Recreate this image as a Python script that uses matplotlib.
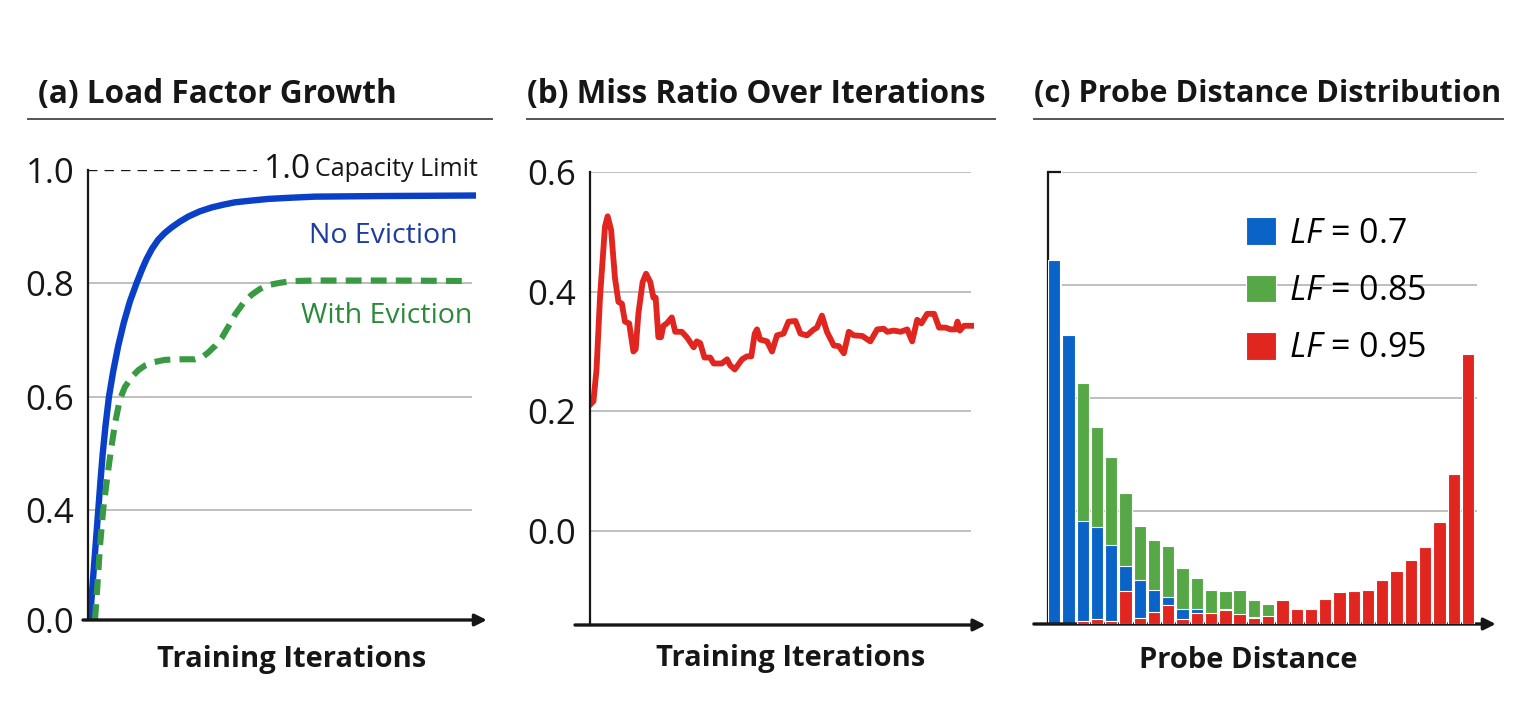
import numpy as np
import matplotlib
matplotlib.use("Agg")
import matplotlib.pyplot as plt
from matplotlib.lines import Line2D

plt.rcParams['font.family'] = ['Open Sans', 'DejaVu Sans']
plt.rcParams['mathtext.fontset'] = 'custom'
plt.rcParams['mathtext.it'] = 'Open Sans:italic'
plt.rcParams['mathtext.rm'] = 'Open Sans'

# ---- data ----
# (a) load factor vs iterations, x in percent of the run
no_evict_x = [0.5, 1.35, 2.65, 3.2, 3.8, 4.5, 5.4, 6.5, 7.8, 9.2, 10.8, 12.5, 14, 15.1, 16.5,
              18.1, 19.8, 21.6, 23.7, 25.9, 28.8, 31.9, 35, 37.9, 42, 46.5, 52, 58.5, 75, 100]
no_evict_y = [0, 0.16, 0.40, 0.45, 0.50, 0.548, 0.60, 0.645, 0.69, 0.73, 0.768, 0.80, 0.826,
              0.843, 0.861, 0.877, 0.889, 0.899, 0.909, 0.918, 0.927, 0.934, 0.939, 0.943,
              0.946, 0.949, 0.951, 0.953, 0.954, 0.955]
evict_x = [1.8, 2.4, 3.1, 3.9, 5.0, 6.0, 7.0, 8.2, 9.5, 11.3, 13, 14.7, 17, 19.8, 24, 27.6, 29.5,
           31, 32.8, 34.5, 36.2, 37.9, 40, 42.2, 44.3, 46.5, 49.5, 52.5, 58.5, 80, 98.5]
evict_y = [0, 0.12, 0.27, 0.40, 0.46, 0.51, 0.554, 0.595, 0.617, 0.635, 0.647, 0.655, 0.661,
           0.665, 0.666, 0.666, 0.670, 0.678, 0.69, 0.704, 0.724, 0.745, 0.765, 0.78, 0.79,
           0.797, 0.801, 0.804, 0.805, 0.805, 0.804]
capacity = 1.0
ticks_a = [0.0, 0.4, 0.6, 0.8, 1.0]
grid_a = [0.4, 0.6, 0.8]

# (b) miss ratio
miss_x = [0, 0.9, 1.7, 2.6, 3.9, 4.6, 5.5, 6.5, 7.4, 8.3, 9.1, 10.2, 11.3, 11.9, 12.6, 13.7,
          14.6, 15.7, 16.5, 17.1, 17.8, 18.5, 19.1, 20, 21.3, 22.2, 23.9, 25.2, 27, 27.8, 28.7,
          29.8, 31.3, 32.2, 34.3, 35.7, 36.5, 37.7, 39.6, 40.9, 42, 42.9, 43.5, 44.3, 46.1,
          47.4, 48.7, 50.4, 51.7, 53.5, 54.8, 56.5, 58.3, 59.1, 60.4, 61.7, 63.5, 64.8, 66.1,
          67.4, 68.7, 70.9, 73, 74.8, 76.5, 77.4, 79.1, 80.9, 82.6, 83.9, 85.2, 86.3, 87.8,
          89.6, 90.9, 92.6, 93.9, 95.2, 95.7, 96.3, 97.4, 100]
miss_y = [0.211, 0.217, 0.27, 0.39, 0.509, 0.526, 0.503, 0.423, 0.383, 0.38, 0.35, 0.347, 0.30,
          0.304, 0.363, 0.416, 0.43, 0.416, 0.39, 0.39, 0.324, 0.324, 0.343, 0.347, 0.357, 0.333,
          0.333, 0.324, 0.307, 0.317, 0.314, 0.29, 0.29, 0.28, 0.28, 0.287, 0.277, 0.27, 0.287,
          0.292, 0.292, 0.33, 0.337, 0.32, 0.317, 0.30, 0.327, 0.33, 0.35, 0.351, 0.33, 0.327,
          0.337, 0.34, 0.36, 0.333, 0.31, 0.309, 0.297, 0.333, 0.327, 0.326, 0.317, 0.337, 0.338,
          0.333, 0.335, 0.333, 0.337, 0.317, 0.353, 0.347, 0.363, 0.363, 0.34, 0.34, 0.337, 0.337,
          0.35, 0.335, 0.343, 0.343]
ticks_b = [0.0, 0.2, 0.4, 0.6]

# (c) probe distance histogram, 30 bins
bins = np.arange(30)
lf70 = [3.22, 2.56, 0.91, 0.86, 0.70, 0.51, 0.39, 0.30, 0.235, 0.13, 0.13, 0.0, 0.13, 0.0, 0.06,
        0, 0, 0, 0, 0, 0, 0, 0, 0, 0, 0, 0, 0, 0, 0]
lf85 = [0, 0.02, 2.13, 1.74, 1.48, 1.16, 0.87, 0.74, 0.69, 0.50, 0.41, 0.30, 0.29, 0.30, 0.21,
        0.18, 0, 0, 0, 0, 0, 0, 0, 0, 0, 0, 0, 0, 0, 0]
lf95 = [0, 0, 0.03, 0.04, 0.03, 0.29, 0.05, 0.11, 0.17, 0.04, 0.10, 0.10, 0.12, 0.09, 0.05,
        0.07, 0.21, 0.13, 0.13, 0.22, 0.28, 0.29, 0.30, 0.39, 0.47, 0.57, 0.68, 0.90, 1.33, 2.39]
grid_c = [1, 2, 3, 4]

BLUE = '#0a3fc8'
GREEN = '#3a9a44'
RED = '#e0261e'
INK = '#161616'
GRID = '#b4b4b4'

W, H = 1536, 720
fig = plt.figure(figsize=(W / 100, H / 100), dpi=100)


def box(l, r, b, t):
    return [l / W, 1 - b / H, (r - l) / W, (b - t) / H]


def xarrow(ax, x0, x1):
    ax.annotate('', xy=(x1, 0), xytext=(x0, 0), xycoords='axes fraction',
                arrowprops=dict(arrowstyle='-|>,head_length=0.7,head_width=0.35',
                                color=INK, lw=2.4, shrinkA=0, shrinkB=0),
                annotation_clip=False)


def title(tx, x0, x1, txt, size=22.7):
    fig.text(tx / W, 1 - 94 / H, txt, fontsize=size, fontweight='bold',
             color=INK, va='center', ha='left')
    fig.add_artist(Line2D([x0 / W, x1 / W], [1 - 119 / H] * 2, color='#555555', lw=1.4))


def style(ax, lab, lx, ly):
    ax.set_xticks([])
    for s in ['top', 'right', 'bottom']:
        ax.spines[s].set_visible(False)
    ax.spines['left'].set_color(INK)
    ax.spines['left'].set_linewidth(1.6)
    ax.set_xlabel(lab, fontsize=21, fontweight='bold', color=INK, va='center')
    ax.xaxis.set_label_coords(lx, ly)


# ---- (a) ----
def fwd(y):
    return np.interp(y, [0, 0.4, 1.0], [0, 0.97, 3.97])


def inv(v):
    return np.interp(v, [0, 0.97, 3.97], [0, 0.4, 1.0])


ax = fig.add_axes(box(88, 476, 620, 170))
ax.set_yscale('function', functions=(fwd, inv))
ax.set_xlim(0, 100)
ax.set_ylim(0, 1.0)
ax.hlines(grid_a, 0, 99, color=GRID, lw=1.2, zorder=0)
ax.hlines(capacity, 0, 43.5, color=INK, lw=1.7, linestyles=(0, (4, 3)))
ax.plot(no_evict_x, no_evict_y, color=BLUE, lw=4.6, solid_capstyle='butt',
        solid_joinstyle='round', clip_on=False)
ax.plot(evict_x, evict_y, color=GREEN, lw=4.4, dashes=(2.6, 1.5), clip_on=False)
ax.text(45.4, capacity, '1.0', fontsize=24, color=INK, va='center', ha='left')
ax.text(58.5, capacity, 'Capacity Limit', fontsize=18, color=INK, va='center', ha='left')
ax.text(57, 0.883, 'No Eviction', fontsize=20.5, color='#1c3d9e', va='center', ha='left')
ax.text(55, 0.742, 'With Eviction', fontsize=20.5, color='#2a8a3a', va='center', ha='left')
ax.set_yticks(ticks_a)
ax.set_yticklabels([f'{t:.1f}' for t in ticks_a])
ax.tick_params(axis='y', length=0, pad=10, labelsize=25, labelcolor=INK)
style(ax, 'Training Iterations', 0.526, -0.087)
xarrow(ax, -0.013, 1.028)
title(38, 28, 492, '(a) Load Factor Growth')

# ---- (b) ----
ax = fig.add_axes(box(590, 974, 625, 172))
ax.set_xlim(0, 100)
ax.set_ylim(-0.157, 0.6)
ax.hlines(ticks_b, 0, 99.2, color=GRID, lw=1.2, zorder=0)
ax.plot(miss_x, miss_y, color=RED, lw=4.2, solid_joinstyle='round')
ax.set_yticks(ticks_b)
ax.set_yticklabels([f'{t:.1f}' for t in ticks_b])
ax.tick_params(axis='y', length=0, pad=10, labelsize=25, labelcolor=INK)
style(ax, 'Training Iterations', 0.523, -0.075)
xarrow(ax, -0.039, 1.03)
title(527, 527, 995, '(b) Miss Ratio Over Iterations')

# ---- (c) ----
ax = fig.add_axes(box(1048, 1476.5, 624, 172))
ax.set_xlim(-0.43, 29.6)
ax.set_ylim(0, 4)
ax.hlines(grid_c, 0.57, 29.6, color=GRID, lw=1.2, zorder=0)
kw = dict(width=0.86, edgecolor='white', linewidth=0.8)
ax.bar(bins, lf85, color='#55a845', label=r'$LF$ = 0.85', zorder=2, **kw)
ax.bar(bins, lf70, color='#0a64c8', label=r'$LF$ = 0.7', zorder=3, **kw)
ax.bar(bins, lf95, color=RED, label=r'$LF$ = 0.95', zorder=4, **kw)
h, l = ax.get_legend_handles_labels()
order = [1, 0, 2]
ax.legend([h[i] for i in order], [l[i] for i in order], loc='upper left',
          bbox_to_anchor=(0.39, 0.968), frameon=False, fontsize=24.5,
          handlelength=0.88, handleheight=0.88, handletextpad=0.4, labelspacing=0.68)
ax.set_yticks([])
ax.set_yticks([4], minor=True)
ax.tick_params(axis='y', which='minor', direction='in', length=9, width=1.6, color=INK,
               labelleft=False)
style(ax, 'Probe Distance', 0.467, -0.08)
xarrow(ax, -0.033, 1.045)
title(1034, 1034, 1503, '(c) Probe Distance Distribution', size=22.1)

fig.savefig('out.png', dpi=100, facecolor='white')
